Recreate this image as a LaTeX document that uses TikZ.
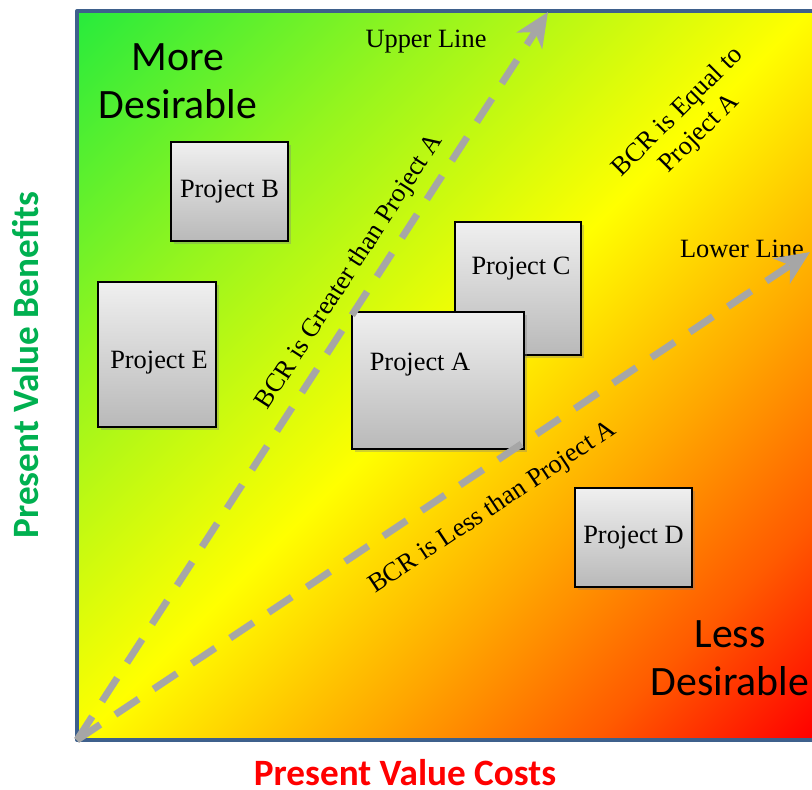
\documentclass[tikz,border=0pt]{standalone}
\usepackage{fontspec}
\setmainfont{Liberation Serif}
\newfontfamily\calibri{Carlito}
\usetikzlibrary{arrows.meta,shadows}
\definecolor{frameblue}{RGB}{62,96,140}
\definecolor{lgreen}{RGB}{40,235,60}
\definecolor{ygreen}{RGB}{150,245,30}
\definecolor{orng}{RGB}{255,165,0}
\definecolor{rorng}{RGB}{255,90,0}
\definecolor{axisgreen}{RGB}{0,176,80}
\definecolor{linegray}{RGB}{166,166,166}
\pgfdeclarehorizontalshading{desire}{100bp}{color(0bp)=(lgreen); color(14.6bp)=(lgreen); color(32bp)=(ygreen); color(50bp)=(yellow); color(64bp)=(orng); color(75bp)=(rorng); color(85.4bp)=(red); color(100bp)=(red)}
\begin{document}
\begin{tikzpicture}[x=0.5pt, y=0.5pt,
  project/.style={draw=black, line width=0.8pt, top color=gray!12, bottom color=gray!55,
    drop shadow={shadow xshift=1.5pt, shadow yshift=-1.5pt, opacity=0.35},
    inner sep=0pt, font=\fontsize{13.2}{15}\selectfont},
  ptext/.style={font=\fontsize{13.2}{15}\selectfont, inner sep=0pt},
  big text/.style={font=\calibri\fontsize{20.9}{24}\selectfont, align=center, inner sep=0pt},
  axis label/.style={font=\calibri\bfseries\fontsize{18.6}{21}\selectfont, inner sep=0pt},
  dashed edge/.style={draw=linegray, line width=3.5pt, dash pattern=on 14pt off 9pt,
    -{Stealth[length=17pt, width=15pt, inset=5pt]}}
]
\useasboundingbox (0,0) rectangle (812,789);
% Define the background
\shade[shading=desire, shading angle=-45] (77,49) rectangle (812,778);
\draw[frameblue, line width=2pt, line join=round] (812,778) -- (77,778) -- (77,49) -- (812,49);
% Define the nodes
\coordinate (O) at (77,49);
\coordinate (U) at (548,777);
\coordinate (L) at (810,537);
\node[project, minimum width=58.5pt, minimum height=49.5pt] (B) at (229.5,597.5) {Project B};
\node[project, minimum width=59pt, minimum height=72.5pt] (E) at (157,434.5) {};
\node[ptext] (tE) at (159,426) {Project E};
\node[project, minimum width=63pt, minimum height=66.5pt] (C) at (518,500.5) {};
\node[ptext] (tC) at (521,520) {Project C};
\node[project, minimum width=86pt, minimum height=68.5pt] (A) at (438,408.5) {};
\node[ptext] (tA) at (420,424) {Project A};
\node[project, minimum width=58.5pt, minimum height=49.5pt] (D) at (633.5,251.5) {Project D};
\node[ptext] (upper) at (426,747) {Upper Line};
\node[ptext] (lower) at (742,540) {Lower Line};
\node[ptext, rotate=57.1] (greater) at (350,517) {BCR is Greater than Project A};
\node[ptext, rotate=33.6] (less) at (493,281) {BCR is Less than Project A};
\node[ptext, rotate=45, align=center] (equal) at (689,666) {BCR is Equal to\\Project A};
\node[big text] (more) at (178,708) {More\\Desirable};
\node[big text] (lessdes) at (730,131) {Less\\Desirable};
\node[axis label, text=red, anchor=base] (costs) at (405,3.5) {Present Value Costs};
\node[axis label, text=axisgreen, anchor=base, rotate=90] (benefits) at (38.5,424) {Present Value Benefits};
% Define the edges
\path (O) edge[dashed edge] (U);
\path (O) edge[dashed edge] (L);
\end{tikzpicture}
\end{document}
